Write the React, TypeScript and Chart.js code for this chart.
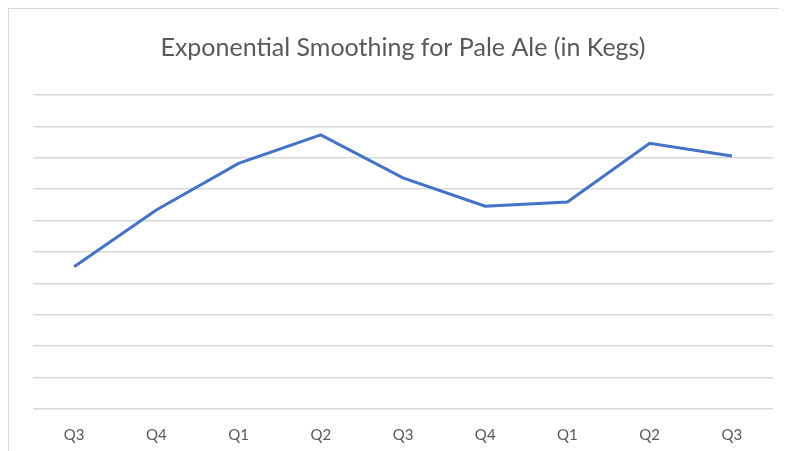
import React, { useEffect, useRef } from "react";
import { Chart, registerables } from "chart.js";

Chart.register(...registerables);

const TITLE = "Exponential Smoothing for Pale Ale (in Kegs)";
const categories = ["Q3", "Q4", "Q1", "Q2", "Q3", "Q4", "Q1", "Q2", "Q3"];
const smoothedValues = [4.53, 6.34, 7.82, 8.73, 7.36, 6.46, 6.59, 8.46, 8.06];
const yMin = 0;
const yMax = 10;
const yStep = 1;

const FONT = "Lato, 'Open Sans', sans-serif";

export default function App() {
  const ref = useRef<HTMLCanvasElement | null>(null);

  useEffect(() => {
    if (!ref.current) return;
    const chart = new Chart(ref.current, {
      type: "line",
      data: {
        labels: categories,
        datasets: [
          {
            label: "Exponential Smoothing",
            data: smoothedValues,
            borderColor: "#4472C4",
            backgroundColor: "#4472C4",
            borderWidth: 3,
            pointRadius: 0,
            tension: 0,
            fill: false,
          },
        ],
      },
      options: {
        animation: false,
        responsive: false,
        maintainAspectRatio: false,
        layout: { padding: { left: 24, right: 14, top: 0, bottom: 0 } },
        plugins: {
          legend: { display: false },
          tooltip: { enabled: false },
          title: {
            display: true,
            text: TITLE,
            color: "#595959",
            font: { family: FONT, size: 25, weight: "normal" },
            padding: { top: 24, bottom: 32 },
          },
        },
        scales: {
          x: {
            offset: true,
            grid: { display: false, drawTicks: false },
            border: { display: false },
            ticks: {
              color: "#595959",
              padding: 17,
              font: { family: FONT, size: 15 },
            },
          },
          y: {
            min: yMin,
            max: yMax,
            ticks: { display: false, stepSize: yStep },
            grid: { color: "#d9d9d9", lineWidth: 1.5, drawTicks: false },
            border: { display: false },
          },
        },
      },
    });
    return () => chart.destroy();
  }, []);

  return (
    <div
      style={{
        width: 779,
        height: 443,
        borderTop: "1px solid #d9d9d9",
        borderLeft: "1px solid #d9d9d9",
        boxSizing: "border-box",
        background: "#fff",
        overflow: "hidden",
      }}
    >
      <canvas ref={ref} width={778} height={452} style={{ display: "block" }} />
    </div>
  );
}
